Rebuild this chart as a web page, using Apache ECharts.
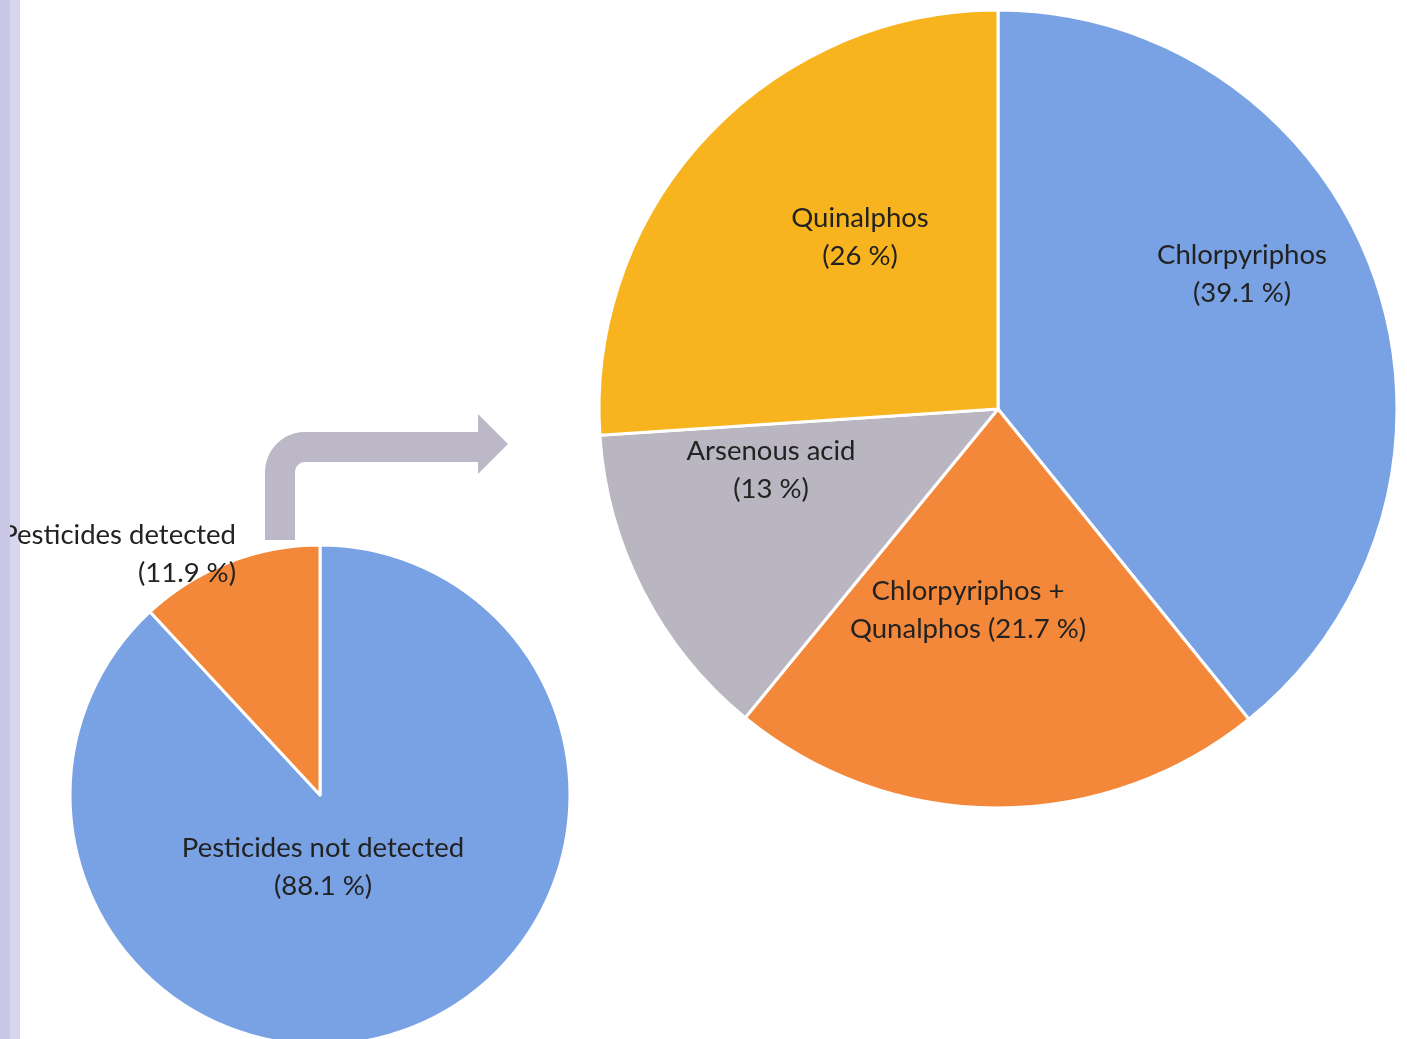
<!DOCTYPE html>
<html>
<head>
<meta charset="utf-8">
<title>Pesticide residues</title>
<script src="https://cdn.jsdelivr.net/npm/echarts@6/dist/echarts.min.js"></script>
<style>
  html, body { margin: 0; padding: 0; background: #ffffff; }
  #chart { width: 1407px; height: 1039px; }
</style>
</head>
<body>
<div id="chart"></div>
<script>
// Overall screening result
const overviewNames = ['Pesticides not detected', 'Pesticides detected'];
const overviewValues = [88.1, 11.9];

// Breakdown of the positive samples
const detailNames = ['Chlorpyriphos', 'Chlorpyriphos + Qunalphos', 'Arsenous acid', 'Quinalphos'];
const detailValues = [39.1, 21.7, 13, 26];

const overviewColors = ['#79a2e4', '#f4883a'];
const detailColors = ['#79a2e4', '#f4883a', '#b9b6c1', '#f7b41e'];

const textColor = '#222222';
const fontFamily = 'Lato, "Open Sans", sans-serif';

// label anchor offsets from each pie centre (px)
const overviewLabelSpots = [[3, 72, 'center'], [-84, -241, 'right']];
const detailLabelSpots = [[244, -135], [-30, 201], [-227, 61], [-138, -172]];

const overviewCenter = [320, 795];
const detailCenter = [998, 409];

function labelText(name, value) {
  if (name === 'Chlorpyriphos + Qunalphos') {
    return 'Chlorpyriphos +\nQunalphos (' + value + ' %)';
  }
  return name + '\n(' + value + ' %)';
}

// bent arrow outline: vertical shaft, rounded elbow, horizontal shaft, head
function arcPoints(cx, cy, r, a0, a1, steps) {
  const pts = [];
  for (let k = 0; k <= steps; k++) {
    const a = a0 + (a1 - a0) * k / steps;
    pts.push([cx + r * Math.cos(a), cy + r * Math.sin(a)]);
  }
  return pts;
}
const elbow = [305, 472];
const arrowPoints = [].concat(
  [[265, 540]],
  arcPoints(elbow[0], elbow[1], 40, Math.PI, Math.PI * 1.5, 12),
  [[478, 432], [478, 414], [508, 444], [478, 474], [478, 462]],
  arcPoints(elbow[0], elbow[1], 10, Math.PI * 1.5, Math.PI, 6),
  [[295, 540]]
);

const chart = echarts.init(document.getElementById('chart'), null, { renderer: 'canvas' });

const labelBase = {
  show: true,
  position: 'inside',
  color: textColor,
  fontFamily: fontFamily,
  fontSize: 27.5,
  lineHeight: 38,
  formatter: p => labelText(p.name, p.value)
};

chart.setOption({
  backgroundColor: '#ffffff',
  animation: false,
  graphic: [
    {
      type: 'polygon',
      z: 1,
      shape: { points: arrowPoints },
      style: { fill: '#bcb8c8' }
    },
    {
      // binding margin: pale strip under the text, darker edge over it
      type: 'rect',
      z: 0,
      shape: { x: 9, y: 0, width: 11, height: 1039 },
      style: { fill: '#d8d5ee' }
    },
    {
      type: 'rect',
      z: 100,
      shape: { x: 0, y: 0, width: 10, height: 1039 },
      style: { fill: '#cac6e6' }
    }
  ],
  series: [
    {
      type: 'pie',
      name: 'overview',
      center: overviewCenter,
      radius: 250,
      startAngle: 90,
      clockwise: true,
      avoidLabelOverlap: false,
      silent: true,
      itemStyle: { borderColor: '#ffffff', borderWidth: 3 },
      label: labelBase,
      labelLine: { show: false },
      labelLayout: p => {
        const s = overviewLabelSpots[p.dataIndex];
        return {
          x: overviewCenter[0] + s[0],
          y: overviewCenter[1] + s[1],
          align: s[2],
          verticalAlign: 'middle'
        };
      },
      data: overviewNames.map((n, i) => ({
        name: n,
        value: overviewValues[i],
        itemStyle: { color: overviewColors[i] },
        label: { align: overviewLabelSpots[i][2] }
      }))
    },
    {
      type: 'pie',
      name: 'detail',
      center: detailCenter,
      radius: 399,
      startAngle: 90,
      clockwise: true,
      avoidLabelOverlap: false,
      silent: true,
      itemStyle: { borderColor: '#ffffff', borderWidth: 3 },
      label: labelBase,
      labelLine: { show: false },
      labelLayout: p => {
        const s = detailLabelSpots[p.dataIndex];
        return {
          x: detailCenter[0] + s[0],
          y: detailCenter[1] + s[1],
          align: 'center',
          verticalAlign: 'middle'
        };
      },
      data: detailNames.map((n, i) => ({
        name: n,
        value: detailValues[i],
        itemStyle: { color: detailColors[i] }
      }))
    }
  ]
});
</script>
</body>
</html>
